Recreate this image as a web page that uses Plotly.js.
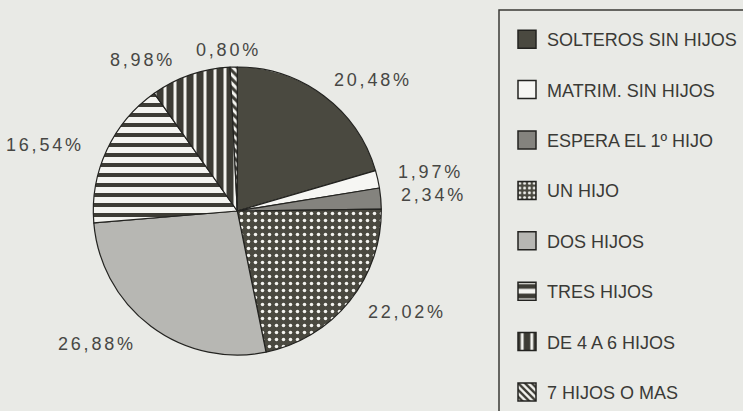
<!DOCTYPE html>
<html><head><meta charset="utf-8">
<script src="https://cdn.plot.ly/plotly-3.0.1.min.js"></script>
<style>
html,body{margin:0;padding:0;background:#e9eae6;}
#chart{width:743px;height:411px;}
.annotation-text{letter-spacing:2.8px;}
</style></head><body><div id="chart"></div><script>
// ---- data ----
const categories = ["SOLTEROS SIN HIJOS","MATRIM. SIN HIJOS","ESPERA EL 1º HIJO","UN HIJO","DOS HIJOS","TRES HIJOS","DE 4 A 6 HIJOS","7 HIJOS O MAS"];
const percentages = [20.48, 1.97, 2.34, 22.02, 26.88, 16.54, 8.98, 0.80];
const pctLabels = percentages.map(v => v.toFixed(2).replace('.', ',') + '%');

// ---- styles ----
const W = 743, H = 411;
const DARK = '#4a4940', DARK2 = '#3d3c35', LIGHT = '#f4f4f0';
const sliceColors = [DARK, '#f6f6f3', '#84837e', DARK, '#b7b7b3', LIGHT, DARK2, LIGHT];
const patShapes   = ['', '', '', '.', '', '-', '|', '\\'];
const patBg       = [DARK, LIGHT, LIGHT, DARK, LIGHT, LIGHT, DARK2, LIGHT];
const patFg       = [LIGHT, DARK, DARK, LIGHT, DARK, DARK2, LIGHT, DARK2];
const patSizePie  = [8, 8, 8, 7, 8, 10, 10, 6];
const patSolPie   = [0.3, 0.3, 0.3, 0.2, 0.3, 0.4, 0.3, 0.5];
const patSizeLeg  = [8, 8, 8, 4, 8, 8, 8, 4];
const patSolLeg   = [0.3, 0.3, 0.3, 0.3, 0.3, 0.5, 0.3, 0.5];
// label centres in px
const labelPx = [[372.5,80],[430.5,172],[433.5,195],[406.5,311.5],[96.5,344],[44.5,145],[142,60.5],[228.5,49.5]];

const cx = 237.3, cy = 211, r = 144;
const pie = {
  type: 'pie', values: percentages, labels: categories,
  sort: false, direction: 'clockwise', rotation: 0,
  textinfo: 'none', hoverinfo: 'skip', showlegend: false,
  domain: {x: [(cx - r)/W, (cx + r)/W], y: [(H - cy - r)/H, (H - cy + r)/H]},
  marker: {
    colors: sliceColors,
    line: {color: '#232320', width: 1.2},
    pattern: {shape: patShapes, bgcolor: patBg, fgcolor: patFg, size: patSizePie, solidity: patSolPie}
  }
};
const legendTraces = categories.map((c, i) => ({
  type: 'bar', x: [null], y: [null], name: c, legendgroup: 'g' + i,
  showlegend: true, hoverinfo: 'skip',
  marker: {
    color: sliceColors[i],
    line: {color: '#232320', width: 1},
    pattern: {shape: patShapes[i], bgcolor: patBg[i], fgcolor: patFg[i], size: patSizeLeg[i], solidity: patSolLeg[i]}
  }
}));

const annotations = pctLabels.map((t, i) => ({
  text: t, showarrow: false, xref: 'paper', yref: 'paper',
  x: labelPx[i][0] / W, y: 1 - labelPx[i][1] / H, xanchor: 'center', yanchor: 'middle',
  font: {family: 'Liberation Sans, Arial, sans-serif', size: 18, color: '#474744'}
}));

const layout = {
  width: W, height: H,
  paper_bgcolor: '#e9eae6', plot_bgcolor: '#e9eae6',
  margin: {l: 0, r: 0, t: 0, b: 0},
  xaxis: {visible: false, domain: [0.99, 1]}, yaxis: {visible: false, domain: [0.99, 1]},
  showlegend: true,
  legend: {
    x: 507 / W, y: 1 - 30 / H, xanchor: 'left', yanchor: 'top',
    bgcolor: 'rgba(0,0,0,0)', borderwidth: 0,
    font: {family: 'Liberation Sans, Arial, sans-serif', size: 18, color: '#3a3a36'},
    tracegroupgap: 24, itemclick: false, itemdoubleclick: false
  },
  annotations: annotations,
  shapes: [{type: 'rect', xref: 'paper', yref: 'paper', x0: 499 / W, x1: 1.05, y0: -0.05, y1: 1 - 10 / H,
    line: {color: '#3a3a36', width: 1.5}, fillcolor: 'rgba(0,0,0,0)', layer: 'below'}]
};

Plotly.newPlot('chart', [pie].concat(legendTraces), layout, {staticPlot: true, displayModeBar: false}).then(gd => {
  gd.querySelectorAll('.legend .legendpoints path').forEach(p => {
    const t = p.getAttribute('transform') || '';
    p.setAttribute('transform', t + ' scale(1.5)');
  });
});
</script></body></html>
